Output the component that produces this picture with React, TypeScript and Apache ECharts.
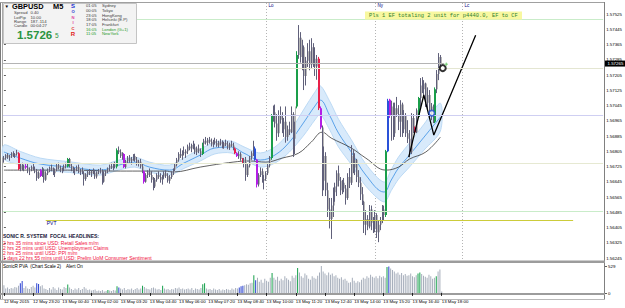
import React, { useEffect, useRef } from "react";
import * as echarts from "echarts";

// stored prices are points (0.00001) above this base
const PRICE_BASE = 1.56;
const PT = 100000;

// GBPUSD M5 bars [open, high, low, close] in points above 1.56000
const ohlc: number[][] = [
  [760,780,745,770],[770,790,760,785],[785,795,765,772],[772,785,755,778],[778,800,770,795],
  [795,805,775,780],[780,795,770,790],[790,812,782,800],[795,800,706,712],[712,740,700,730],
  [730,745,705,715],[715,735,700,728],[728,742,712,720],[720,738,690,700],[700,720,680,712],
  [712,730,700,722],[722,740,705,710],[710,725,690,698],[698,712,650,665],[665,700,660,692],
  [705,712,670,675],[675,722,670,700],[700,715,640,655],[655,700,650,690],[690,715,680,708],
  [708,725,695,718],[718,735,700,705],[705,720,680,690],[690,715,670,710],[710,740,700,732],
  [732,745,710,718],[718,730,695,702],[702,720,690,715],[715,735,700,728],[728,745,715,735],
  [725,770,720,765],[765,770,720,728],[728,740,700,710],[710,725,690,700],[700,718,680,712],
  [712,730,700,722],[722,735,690,695],[695,712,680,705],[705,720,685,690],[690,700,625,660],
  [660,690,650,685],[685,705,670,698],[698,712,680,688],[688,705,670,700],[700,715,685,692],
  [692,708,660,672],[672,700,662,695],[695,712,685,705],[705,718,688,695],[695,710,630,645],
  [645,700,640,690],[690,705,675,700],[700,720,690,715],[715,735,700,728],[728,745,712,720],
  [720,740,705,735],[735,750,715,725],[725,820,715,810],[810,830,790,800],[800,815,770,780],
  [780,800,760,790],[790,795,717,722],[722,760,715,752],[752,780,740,770],[770,785,745,755],
  [755,775,735,765],[765,790,755,780],[780,792,750,760],[760,775,730,740],[740,760,725,750],
  [750,765,715,725],[725,740,690,700],[700,705,635,645],[645,690,640,680],[680,705,665,695],
  [695,715,670,680],[680,700,640,655],[655,670,600,620],[620,665,612,655],[655,690,645,680],
  [680,700,660,670],[670,690,640,655],[655,680,630,672],[672,700,660,690],[690,705,665,675],
  [675,690,640,650],[650,680,635,670],[670,700,660,690],[690,715,680,708],[708,740,700,735],
  [735,770,725,760],[760,800,750,790],[790,820,770,780],[780,810,760,800],[800,830,785,795],
  [795,815,770,805],[805,840,790,830],[830,850,810,820],[820,845,800,838],[838,860,815,825],
  [825,845,790,800],[800,830,785,820],[820,840,795,805],[805,820,775,790],[790,850,785,845],
  [845,870,830,860],[860,880,840,850],[850,875,835,865],[865,880,845,855],[855,872,830,840],
  [840,865,825,858],[858,876,840,848],[848,868,828,835],[835,860,825,852],[852,870,835,845],
  [845,862,820,830],[830,855,818,848],[848,866,832,840],[840,858,815,825],[825,850,812,842],
  [842,860,828,835],[835,850,810,820],[820,825,790,795],[795,800,775,780],[780,805,765,790],
  [790,800,755,765],[765,770,740,745],[745,770,720,760],[760,775,650,680],[680,740,670,730],
  [730,780,720,770],[770,805,760,795],[795,860,780,820],[820,830,755,760],[760,765,615,630],
  [630,690,620,680],[680,720,670,700],[700,715,640,650],[650,680,605,660],[660,700,650,690],
  [690,740,680,730],[730,780,720,770],[770,1000,760,990],[990,1045,960,1010],[1010,1050,930,950],
  [950,1000,860,900],[900,1020,880,990],[990,1040,950,970],[970,1010,900,920],[920,980,880,960],
  [960,1040,850,880],[880,940,860,920],[920,960,890,905],[905,1040,900,1000],[1000,1010,775,870],
  [870,960,790,1040],[1040,1330,1030,1310],[1310,1467,1290,1400],[1400,1430,1270,1300],[1300,1390,1230,1350],
  [1350,1360,1126,1200],[1200,1300,1150,1280],[1280,1372,1247,1330],[1330,1390,1230,1260],[1260,1398,1240,1350],
  [1350,1372,1247,1290],[1290,1350,1200,1250],[1250,1310,1180,1290],[1290,1300,1021,1030],[1030,1040,920,930],
  [930,940,570,650],[650,830,600,780],[780,800,570,600],[600,640,460,500],[500,560,400,450],
  [450,560,345,520],[520,615,460,590],[590,640,540,620],[620,705,570,690],[690,730,620,650],
  [650,670,575,600],[600,655,580,640],[640,665,590,610],[610,628,525,560],[560,690,550,670],
  [670,717,612,640],[640,837,628,780],[780,811,690,720],[720,795,680,760],[760,765,643,670],
  [670,706,617,640],[640,669,549,580],[580,617,523,540],[540,545,376,420],[420,496,365,450],
  [450,470,391,410],[410,523,400,500],[500,520,391,430],[430,460,376,400],[400,496,380,470],
  [470,480,350,380],[380,444,328,420],[420,460,391,440],[440,523,428,500],[500,520,440,470],
  [470,812,460,805],[805,1080,800,1070],[1075,1080,980,990],[990,1070,860,1040],[1040,1060,865,900],
  [900,1060,880,1030],[1030,1090,985,1000],[1000,1047,916,960],[960,1073,880,1050],[1050,1060,880,920],
  [920,1021,900,990],[990,1005,880,900],[900,968,848,870],[870,916,774,800],[800,1005,790,980],
  [980,1000,900,930],[930,935,900,905],[905,1030,900,1020],[985,1090,980,1085],[1085,1189,1037,1150],
  [1150,1194,1110,1130],[1130,1178,1090,1160],[1160,1165,1037,1060],[1060,1140,1021,1100],[1100,1126,984,1000],
  [1000,1058,968,1040],[1040,1050,953,980],[960,1140,953,1130],[1130,1231,1110,1210],[1210,1320,1178,1300],
  [1300,1310,1231,1265],
];
const pvaGreenBars = [35, 62, 109, 147, 161, 210, 228, 237];
const pvaRedBars = [8, 127, 131, 173, 226];
const pvaPurpleBars = [12, 20, 66, 77, 128, 139, 174, 212];
const pvaBlueBars = [138, 211];

// SonicR PVA volume
const volumes = [
  150,90,110,80,100,90,120,110,140,190,235,
  100,130,90,80,120,140,110,190,175,130,150,90,
  80,60,100,70,120,90,60,110,80,70,120,100,165,
  110,80,60,90,70,100,60,80,120,90,60,70,50,60,70,40,50,40,60,30,
  40,60,50,40,60,50,130,110,
  90,70,100,60,80,70,90,60,80,100,70,90,140,
  120,90,80,70,100,110,90,70,80,60,140,90,70,80,
  60,80,70,100,90,110,80,90,70,80,90,70,100,60,90,80,70,100,170,190,
  90,70,80,60,90,70,60,80,50,70,60,80,70,60,90,70,
  100,90,110,130,140,150,170,160,190,
  200,350,250,300,220,260,200,280,240,220,300,390,
  300,260,320,240,280,250,330,290,260,230,340,300,350,
  490,
  400,330,300,380,350,280,260,330,300,280,340,400,529,
  420,380,350,400,360,380,330,350,300,280,310,260,280,240,200,210,
  300,240,200,230,210,260,300,280,330,300,360,320,300,330,290,340,310,330,300,
  510,520,
  480,450,420,380,400,360,390,350,370,340,350,380,330,310,350,
  380,400,
  370,340,320,300,360,330,280,300,
  330,
  420,460,30,
];
const volGreenBars = [35, 57, 62, 76, 87, 109, 110, 137, 147, 161, 210, 227, 228, 237];
const volBlueBars = [9, 10, 18, 19, 63, 129, 130, 131, 138, 211];

const tickLabels = [
  "12 May 2015","12 May 23:20","13 May 00:40","13 May 02:00","13 May 03:20","13 May 04:40",
  "13 May 06:00","13 May 07:20","13 May 08:40","13 May 10:00","13 May 11:20","13 May 12:40",
  "13 May 14:00","13 May 15:20","13 May 16:40","13 May 18:00",
];
const TICK_EVERY = 16;
const SLOTS = 330;

const sessionBars = [144, 204, 252];
const sessionNames = ["Lo", "Ny", "Lc"];

// moving averages [bar, points]
const maSlow = [[0,706],[35,706],[64,701],[89,701],[93,696],[108,722],[126,748],[135,754],[144,748],[153,769],[162,795],[169,853],[175,905],[180,874],[191,822],[199,769],[210,706],[217,722],[223,764],[232,801],[240,879]];
const maFast = [[0,801],[9,769],[20,738],[36,722],[53,706],[63,732],[72,748],[80,722],[91,706],[99,743],[108,785],[116,822],[125,827],[132,795],[141,759],[149,785],[157,853],[165,958],[171,1042],[174,1073],[179,995],[184,900],[191,801],[199,680],[209,591],[213,654],[217,717],[223,785],[231,879],[240,984]];
const bandUpper = [[0,838],[9,804],[20,769],[36,750],[53,732],[63,758],[72,774],[80,748],[91,732],[99,771],[108,816],[116,853],[125,858],[132,828],[141,796],[149,827],[157,905],[165,1026],[171,1115],[174,1148],[179,1070],[184,973],[191,866],[199,738],[209,643],[213,709],[217,775],[223,848],[231,947],[240,1057]];
const bandLower = [[0,764],[9,734],[20,707],[36,694],[53,680],[63,706],[72,722],[80,696],[91,680],[99,715],[108,754],[116,791],[125,796],[132,762],[141,722],[149,743],[157,801],[165,890],[171,969],[174,998],[179,920],[184,827],[191,736],[199,622],[209,539],[213,599],[217,659],[223,722],[231,811],[240,911]];

const trendLine = [[222.6,774],[230.9,1100],[236.4,890],[259.4,1414]];
const blueRing = [235.3, 1005];
const blackRing = [241.3, 1241];
const greenPlus = [243.2, 1262];

const levelLines = [1498, 1243, 995, 743, 491];
const pvtLevel = 444;
const pvtFrom = 23;
const pvtTo = 313;
const bidPrice = 1265;

const infoLabels = ["Spread", "LotPip", "Range", "Candle"];
const infoValues = ["0.40", "10.00", "187..114", "00:04:27"];
const sonicLetters = ["S", "O", "N", "I", "C", "R"];
const cityTimes = ["01:05", "00:05", "23:05", "18:05", "17:05", "16:05", "11:05"];
const cityNames = ["Sydney", "Tokyo", "HongKong", "Helsinki (E.P)", "Frankfurt", "London (G+1)", "NewYork"];
const headlines = [
  "2 hrs 35 mins since USD: Retail Sales m/m",
  "2 hrs 25 mins until USD: Unemployment Claims",
  "2 hrs 25 mins until USD: PPI m/m",
  "1 days 22 hrs 55 mins until USD: Prelim UoM Consumer Sentiment",
];
const noteText = "Pls 1 EF totaling 2 unit for p4440.0, EF to CF";

const FONT = '"Liberation Sans", Arial, sans-serif';

function pvaColor(i: number): string | null {
  if (pvaGreenBars.includes(i)) return "#1a9e4a";
  if (pvaRedBars.includes(i)) return "#e8204a";
  if (pvaPurpleBars.includes(i)) return "#b41ee6";
  if (pvaBlueBars.includes(i)) return "#2a52d8";
  return null;
}

function txt(x: number, y: number, text: string, size: number, fill: string, weight = "normal", family = FONT, align = "left") {
  return {
    type: "text", x, y, silent: true, z: 50,
    style: { text, fontSize: size, fontWeight: weight, fontFamily: family, fill, verticalAlign: "middle", align },
  };
}

export default function App() {
  const ref = useRef<HTMLDivElement>(null);
  useEffect(() => {
    if (!ref.current) return;
    document.body.style.margin = "0";
    const chart = echarts.init(ref.current, null, { renderer: "svg" });
    const pts = (a: number[][]) => a.map(([i, v]) => [i, v]);

    const option: any = {
      animation: false,
      backgroundColor: "#ffffff",
      grid: [
        { left: 3, right: 20, top: 14, bottom: 50 },
        { left: 3, right: 20, top: 266, bottom: 15 },
      ],
      xAxis: [
        { type: "value", gridIndex: 0, min: -0.5, max: SLOTS - 0.5, show: false },
        {
          type: "category", gridIndex: 1, boundaryGap: true,
          data: Array.from({ length: SLOTS }, (_, i) => String(i)),
          offset: 4,
          axisLine: { show: false },
          axisTick: {
            show: true, alignWithLabel: true, length: 3, lineStyle: { color: "#000", width: 0.8 },
            interval: (idx: number) => idx % TICK_EVERY === 0 && idx / TICK_EVERY < tickLabels.length,
          },
          axisLabel: {
            show: true, fontSize: 4.4, color: "#000", fontFamily: FONT, align: "left", margin: 2,
            interval: (idx: number) => idx % TICK_EVERY === 0 && idx / TICK_EVERY < tickLabels.length,
            formatter: (_v: string, idx: number) => tickLabels[idx / TICK_EVERY] || "",
          },
        },
      ],
      yAxis: [
        {
          type: "value", gridIndex: 0, position: "right", min: 245, max: 1525, interval: 80,
          axisLine: { show: false }, splitLine: { show: false },
          axisTick: { show: true, length: 2, lineStyle: { color: "#333", width: 0.8 } },
          axisLabel: {
            fontSize: 4.4, color: "#000", margin: 3, fontFamily: FONT,
            formatter: (v: number) => (PRICE_BASE + v / PT).toFixed(5),
          },
        },
        {
          type: "value", gridIndex: 1, position: "right", min: 0, max: 529, interval: 529,
          axisLine: { show: false }, splitLine: { show: false },
          axisTick: { show: true, length: 2, lineStyle: { color: "#333", width: 0.8 } },
          axisLabel: { fontSize: 4.4, color: "#000", margin: 3, fontFamily: FONT },
        },
      ],
      series: [
        {
          type: "custom", xAxisIndex: 0, yAxisIndex: 0, z: 1, silent: true,
          data: [[0, 700]],
          renderItem: (_p: any, api: any) => {
            const up = bandUpper.map(([i, v]) => api.coord([i, v]));
            const lo = bandLower.map(([i, v]) => api.coord([i, v])).reverse();
            return {
              type: "polygon",
              shape: { points: up.concat(lo), smooth: 0.3 },
              style: { fill: "#d8eafb", stroke: "#bcdaf5", lineWidth: 1 },
            };
          },
        },
        {
          type: "line", xAxisIndex: 0, yAxisIndex: 0, z: 2, silent: true,
          data: pts(maFast), smooth: 0.4, symbol: "none",
          lineStyle: { color: "#3a8fe4", width: 0.8 },
        },
        {
          type: "line", xAxisIndex: 0, yAxisIndex: 0, z: 2, silent: true,
          data: pts(maSlow), smooth: 0.4, symbol: "none",
          lineStyle: { color: "#3a3a3a", width: 0.8 },
          markLine: {
            silent: true, symbol: ["none", "none"], label: { show: false }, animation: false,
            data: [
              ...levelLines.map((v, k) => ({
                yAxis: v,
                lineStyle: { type: "solid", width: 1, color: ["#c9ecc9", "#e4e6d2", "#cfcff2", "#e6e9d2", "#c9ecc9"][k] },
              })),
              [
                { coord: [pvtFrom, pvtLevel], lineStyle: { type: "solid", width: 1.2, color: "#cccc3a" } },
                { coord: [pvtTo, pvtLevel] },
              ],
              [
                { coord: [-0.5, bidPrice], lineStyle: { type: "solid", width: 1, color: "#b4b4b4" } },
                { coord: [242, bidPrice] },
              ],
            ],
          },
        },
        {
          type: "custom", xAxisIndex: 0, yAxisIndex: 0, z: 3, silent: true,
          data: ohlc.map((b, i) => [i, b[0], b[1], b[2], b[3]]),
          encode: { x: 0, y: [1, 2, 3, 4] },
          renderItem: (_p: any, api: any) => {
            const i = api.value(0);
            const o = api.coord([i, api.value(1)]);
            const h = api.coord([i, api.value(2)]);
            const l = api.coord([i, api.value(3)]);
            const c = api.coord([i, api.value(4)]);
            const col = pvaColor(i);
            const X = Math.floor(h[0]);
            const top = Math.min(o[1], c[1]);
            const bot = Math.max(o[1], c[1]);
            return {
              type: "group",
              children: [
                { type: "rect", shape: { x: X + 1, y: top, width: 1, height: Math.max(1, bot - top) }, style: { fill: col || "#b8b8b8" } },
                { type: "line", shape: { x1: X + 0.5, y1: h[1], x2: X + 0.5, y2: l[1] }, style: { stroke: col || "#60607a", lineWidth: 1 } },
              ],
            };
          },
        },
        {
          type: "line", xAxisIndex: 0, yAxisIndex: 0, z: 4, silent: true,
          data: pts(trendLine), symbol: "none",
          lineStyle: { color: "#000", width: 1.3 },
        },
        {
          type: "scatter", xAxisIndex: 0, yAxisIndex: 0, z: 5, silent: true,
          data: [blueRing], symbol: "circle", symbolSize: 5.5,
          itemStyle: { color: "#fff", borderColor: "#1f4fd0", borderWidth: 1.6 },
        },
        {
          type: "scatter", xAxisIndex: 0, yAxisIndex: 0, z: 5, silent: true,
          data: [blackRing], symbol: "circle", symbolSize: 6,
          itemStyle: { color: "#fff", borderColor: "#000", borderWidth: 2 },
        },
        {
          type: "scatter", xAxisIndex: 0, yAxisIndex: 0, z: 5, silent: true,
          data: [greenPlus], symbol: "path://M4,0H6V4H10V6H6V10H4V6H0V4H4Z", symbolSize: 3.5,
          itemStyle: { color: "#22b022" },
        },
        {
          type: "bar", xAxisIndex: 1, yAxisIndex: 1, barWidth: 1, silent: true,
          data: volumes.map((v, i) => ({
            value: v,
            itemStyle: {
              color: volGreenBars.includes(i) ? "#14a04a" : volBlueBars.includes(i) ? "#2840d0" : "#a6aebb",
            },
          })),
        },
      ],
    };
    chart.setOption(option);

    const px = (i: number) => chart.convertToPixel({ xAxisIndex: 0 } as any, i) as number;
    const py = (v: number) => chart.convertToPixel({ yAxisIndex: 0 } as any, v) as number;

    const els: any[] = [];
    // frame
    els.push({ type: "rect", shape: { x: 0, y: 2, width: 1, height: 297 }, style: { fill: "#7a7a7a" }, silent: true });
    els.push({ type: "rect", shape: { x: 2, y: 2, width: 1, height: 297 }, style: { fill: "#a8a8a8" }, silent: true });
    els.push({ type: "line", shape: { x1: 0, y1: 2.5, x2: 605, y2: 2.5 }, style: { stroke: "#a0a0a0", lineWidth: 1 }, silent: true });
    els.push({ type: "line", shape: { x1: 604.5, y1: 2, x2: 604.5, y2: 299 }, style: { stroke: "#808080", lineWidth: 1 }, silent: true });
    els.push({ type: "rect", shape: { x: 0, y: 260.5, width: 605, height: 2.5 }, style: { fill: "#9c9c9c" }, silent: true });
    els.push({ type: "rect", shape: { x: 0, y: 293, width: 605, height: 2 }, style: { fill: "#9c9c9c" }, silent: true });
    els.push({ type: "line", shape: { x1: 0, y1: 299.5, x2: 605, y2: 299.5 }, style: { stroke: "#b8b8b8", lineWidth: 1 }, silent: true });

    // session separators
    sessionBars.forEach((b, k) => {
      const x = Math.round(px(b)) + 0.5;
      els.push({ type: "line", shape: { x1: x, y1: 3, x2: x, y2: 260 }, style: { stroke: "#b4b4b4", lineWidth: 1, lineDash: [1, 2] }, silent: true, z: 0 });
      els.push(txt(x + 2, 5.5, sessionNames[k], 4.5, "#000080"));
    });

    // bid price box
    const by = py(bidPrice);
    els.push({ type: "rect", shape: { x: 605, y: by - 3, width: 20, height: 6 }, style: { fill: "#000" }, silent: true, z: 50 });
    els.push(txt(607.5, by, (PRICE_BASE + bidPrice / PT).toFixed(5), 4.4, "#fff"));

    // note
    els.push({ type: "rect", shape: { x: 365, y: 11.5, width: 157, height: 8 }, style: { fill: "#f8f8a0" }, silent: true, z: 40 });
    els.push(txt(369, 15.7, noteText, 5.4, "#2f7f2f", "normal", '"Liberation Mono", "DejaVu Sans Mono", monospace'));

    // PVT label
    els.push(txt(px(pvtFrom) + 1, py(pvtLevel) + 3, "PVT", 5, "#000080"));

    // info panel
    els.push({ type: "rect", shape: { x: 3.5, y: 3.5, width: 133, height: 40 }, style: { fill: "#f3f3f3", stroke: "#c4c4c4", lineWidth: 1 }, silent: true, z: 40 });
    els.push(txt(4.5, 6.5, "▼", 4.5, "#000"));
    els.push(txt(12, 6.8, "GBPUSD", 7.4, "#000", "bold"));
    els.push(txt(53, 6.8, "M5", 7.4, "#000", "bold"));
    infoLabels.forEach((s, k) => {
      els.push(txt(14, 12.7 + k * 4.4, s, 4.2, "#404040"));
      els.push(txt(30.5, 12.7 + k * 4.4, infoValues[k], 4.2, "#404040"));
    });
    els.push(txt(17, 34.5, "1.5726", 11.5, "#2a9440", "bold"));
    els.push(txt(55, 35.5, "5", 6.5, "#2a9440"));
    const letterColors = ["#2030d0", "#2030d0", "#e040a0", "#e040a0", "#e02020", "#e02020"];
    const letterY = [6.2, 11.8, 17.2, 22.4, 28.2, 34.0];
    sonicLetters.forEach((s, k) => {
      const big = k === 0 || k === 5;
      els.push(txt(73, letterY[k], s, big ? 6 : 4.2, letterColors[k], "bold", FONT, "center"));
    });
    cityTimes.forEach((t, k) => {
      const col = k >= 5 ? "#1f9a1f" : "#404040";
      els.push(txt(86, 5.8 + k * 4.65, t, 4.2, col));
      els.push(txt(102, 5.8 + k * 4.65, cityNames[k], 4.2, col));
    });

    // headlines
    els.push(txt(3, 235.5, "SONIC R. SYSTEM  FOCAL HEADLINES:", 5, "#1a1a3a", "bold"));
    headlines.forEach((s, k) => els.push(txt(3, 242.5 + k * 5.2, s, 5, "#f0103c")));

    // sub window labels
    els.push(txt(3, 266.8, "SonicR PVA  (Chart Scale 2)    Alert On", 4.6, "#000"));

    chart.setOption({ graphic: { elements: els } });

    return () => chart.dispose();
  }, []);

  return <div ref={ref} style={{ position: "fixed", left: 0, top: 0, width: 625, height: 308 }} />;
}
